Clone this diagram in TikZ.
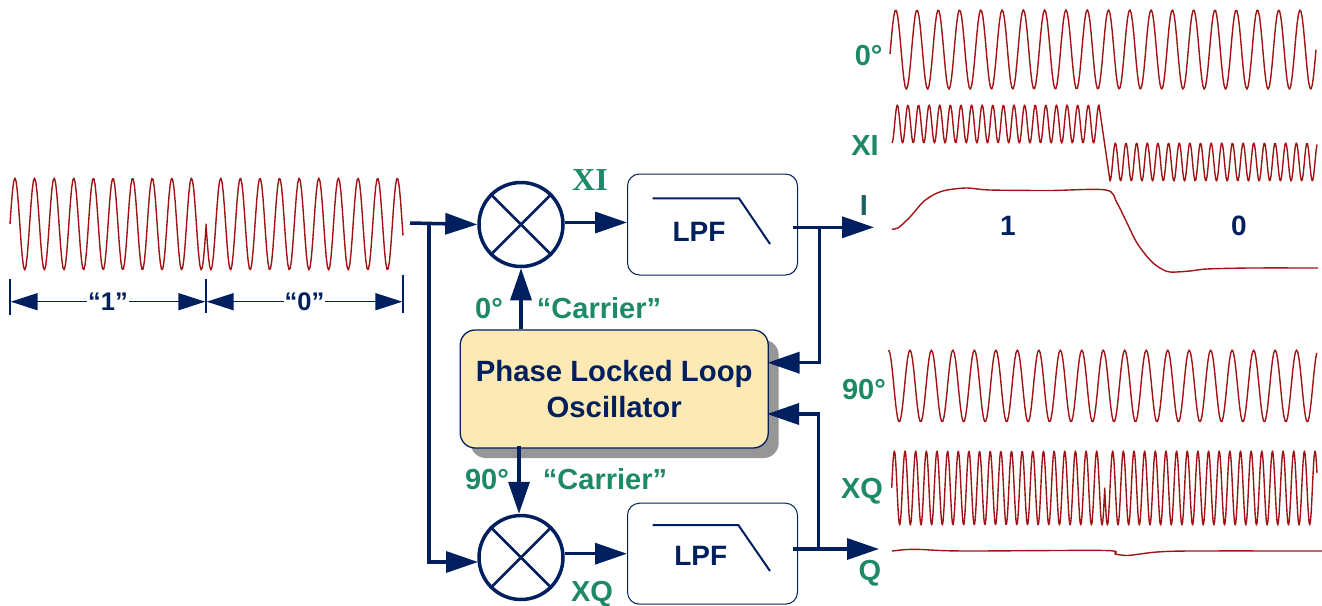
\documentclass[tikz,border=0pt]{standalone}
\usepackage{fontspec}
\setmainfont{Liberation Sans}
\newfontfamily\serifbold{Liberation Serif}
\usetikzlibrary{arrows.meta,shadows}
\definecolor{navy}{HTML}{001F5F}
\definecolor{labelgreen}{HTML}{1D8A63}
\definecolor{labelteal}{HTML}{1C6060}
\definecolor{wavered}{HTML}{A01414}
\definecolor{pllfill}{HTML}{FCE9B4}
\definecolor{pllshadow}{HTML}{969696}
\tikzset{
  wave/.style={draw=wavered, line width=1.4pt, line join=round},
  flow/.style={draw=navy, line width=3.5pt},
  flowtip/.style={flow, -{Triangle[length=32pt,width=21pt]}},
  span/.style={draw=navy, line width=1.5pt, {Triangle[length=27pt,width=17pt]}-{Triangle[length=27pt,width=17pt]}},
  spantick/.style={draw=navy, line width=1.5pt},
  spanlabel/.style={fill=white, inner sep=1pt, text=navy, font=\fontsize{25.5}{27}\selectfont\bfseries},
  mixer/.style={draw=navy, shape=circle, line width=3.5pt, minimum size=84pt, inner sep=0pt, fill=white},
  mixcross/.style={draw=navy, line width=2.5pt},
  lpfbox/.style={draw=navy, line width=1pt, rounded corners=12pt, minimum width=170pt, minimum height=101pt, fill=white},
  lpfcurve/.style={draw=navy, line width=2pt},
  lpftext/.style={anchor=base, text=navy, font=\fontsize{28}{30}\selectfont\bfseries},
  pllbox/.style={draw=navy, line width=1.3pt, rounded corners=15pt, fill=pllfill, minimum width=308pt, minimum height=118pt, align=center, text=navy, font=\fontsize{29.3}{36}\selectfont\bfseries, general shadow={fill=pllshadow, shadow xshift=10.5pt, shadow yshift=-10pt}},
  tag/.style={anchor=base, text=labelgreen, font=\fontsize{29}{31}\selectfont\bfseries},
  bit/.style={anchor=base, text=navy, font=\fontsize{28}{30}\selectfont\bfseries},
  declare function={sw(\t,\s,\p)=sin(360*((\t-\s)/\p));}
}
\begin{document}
\begin{tikzpicture}[x=1pt,y=-1pt]
    \useasboundingbox (0,0) rectangle (1322,605);
    \draw[wave] plot[domain=10:206,samples=160] (\x,{224-46*sw(\x,10,19.62)}) -- plot[domain=206:403,samples=160] (\x,{224+46*sw(\x,206,19.62)});
    \draw[wave] plot[domain=890:1316,samples=340] (\x,{49.5-39.7*sw(\x,890.4,21.28)});
    \draw[wave] plot[domain=892:1099,samples=240] (\x,{124-19*sw(\x,894.65,10.61)}) -- plot[domain=1110:1317,samples=240] (\x,{162-19*sw(\x,1112.65,10.65)});
    \draw[wave] plot[domain=888.5:1316.7,samples=340] (\x,{386-36*sw(\x,883.1,21.48)});
    \draw[wave] plot[domain=891.7:1104.7,samples=320] (\x,{488-37*sw(\x,891.7,10.65)}) -- plot[domain=1104.7:1317,samples=320] (\x,{488+37*sw(\x,1104.7,10.65)});
    \draw[wave] plot[smooth,tension=0.5] coordinates {(892,229) (898,228) (910,217) (923,202) (935,194) (947,190) (967,188) (990,190) (1050,190.5) (1106,190) (1117,203) (1127,223) (1137,243) (1150,260) (1160,268) (1170,272) (1190,271) (1207,269) (1250,268) (1318,268)};
    \draw[wave] plot[smooth,tension=0.5] coordinates {(892,551) (907,549.5) (922,549.5) (940,550.5) (973,551) (1105,550.5) (1115,554) (1127,555.5) (1140,554) (1157,552) (1190,551) (1322,551)};
    \node(bitone)[bit] at (1008,235) {1};
    \node(bitzero)[bit] at (1239,235) {0};
    \node(spanA)[inner sep=0pt] at (10,301.7) {};
    \node(spanB)[inner sep=0pt] at (206,301.7) {};
    \node(spanC)[inner sep=0pt] at (403,301.7) {};
    \draw[span] (spanA) -- node[spanlabel] {“1”} (spanB);
    \draw[span] (spanB) -- node[spanlabel] {“0”} (spanC);
    \draw[spantick] (10,279) -- (10,315);
    \draw[spantick] (206,279) -- (206,313);
    \draw[spantick] (403,275) -- (403,313);
    \node(mixI)[mixer] at (521,224.5) {};
    \node(mixQ)[mixer] at (521,557.5) {};
    \draw[mixcross] (mixI.45) -- (mixI.225);
    \draw[mixcross] (mixI.135) -- (mixI.315);
    \draw[mixcross] (mixQ.45) -- (mixQ.225);
    \draw[mixcross] (mixQ.135) -- (mixQ.315);
    \node(lpfI)[lpfbox] at (712.5,224.5) {};
    \node(lpfQ)[lpfbox] at (712.5,553.7) {};
    \node(lpfIt)[lpftext] at (699,241.7) {LPF};
    \node(lpfQt)[lpftext] at (700.7,565) {LPF};
    \draw[lpfcurve] (652.7,198.3) -- (739,198.3) -- (770,244);
    \draw[lpfcurve] (652.7,525) -- (738.3,525) -- (770,571);
    \node(pll)[pllbox] at (614.2,389) {Phase Locked Loop\\Oscillator};
    \coordinate(inS) at (410,223);
    \coordinate(tapS) at (429,223);
    \coordinate(inQ) at (478,562);
    \coordinate(outI) at (874,227.3);
    \coordinate(tapI) at (819.3,227.3);
    \coordinate(fbI) at (767.5,362.7);
    \coordinate(outQ) at (879,549);
    \coordinate(tapQ) at (818.3,549);
    \coordinate(fbQ) at (767,414);
    \draw[flowtip] (inS) -- (mixI.west);
    \draw[flowtip] (tapS) |- (inQ);
    \draw[flowtip] ([yshift=2pt]mixI.east) -- ([yshift=2pt]lpfI.west);
    \draw[flowtip] (mixQ.east |- lpfQ.west) -- (lpfQ.west);
    \draw[flowtip] (793,227.3) -- (outI);
    \draw[flowtip] (793,549) -- (outQ);
    \draw[flowtip] (tapI) |- (fbI);
    \draw[flowtip] (tapQ) |- (fbQ);
    \draw[flowtip] (mixI |- pll.north) -- (mixI.south);
    \draw[flowtip] ([xshift=-2pt]mixQ |- pll.south) ++(0,-3) -- ([xshift=-2pt]mixQ.north);
    \node(tagXIa)[tag, font=\fontsize{32}{34}\selectfont\serifbold\bfseries] at (590,190.5) {XI};
    \node(tagZa)[tag] at (489,318.3) {0°};
    \node(tagCa)[tag] at (599,318) {“Carrier”};
    \node(tagNa)[tag] at (487,489.3) {90°};
    \node(tagCb)[tag] at (605,489) {“Carrier”};
    \node(tagXQa)[tag] at (592,601) {XQ};
    \node(tagI)[tag, text=labelteal] at (864,215) {I};
    \node(tagQ)[tag] at (870,580.7) {Q};
    \node(tagZb)[tag] at (868.7,65) {0°};
    \node(tagXIb)[tag] at (865,155.7) {XI};
    \node(tagNb)[tag] at (864,399) {90°};
    \node(tagXQb)[tag] at (862,498.5) {XQ};
\end{tikzpicture}
\end{document}
